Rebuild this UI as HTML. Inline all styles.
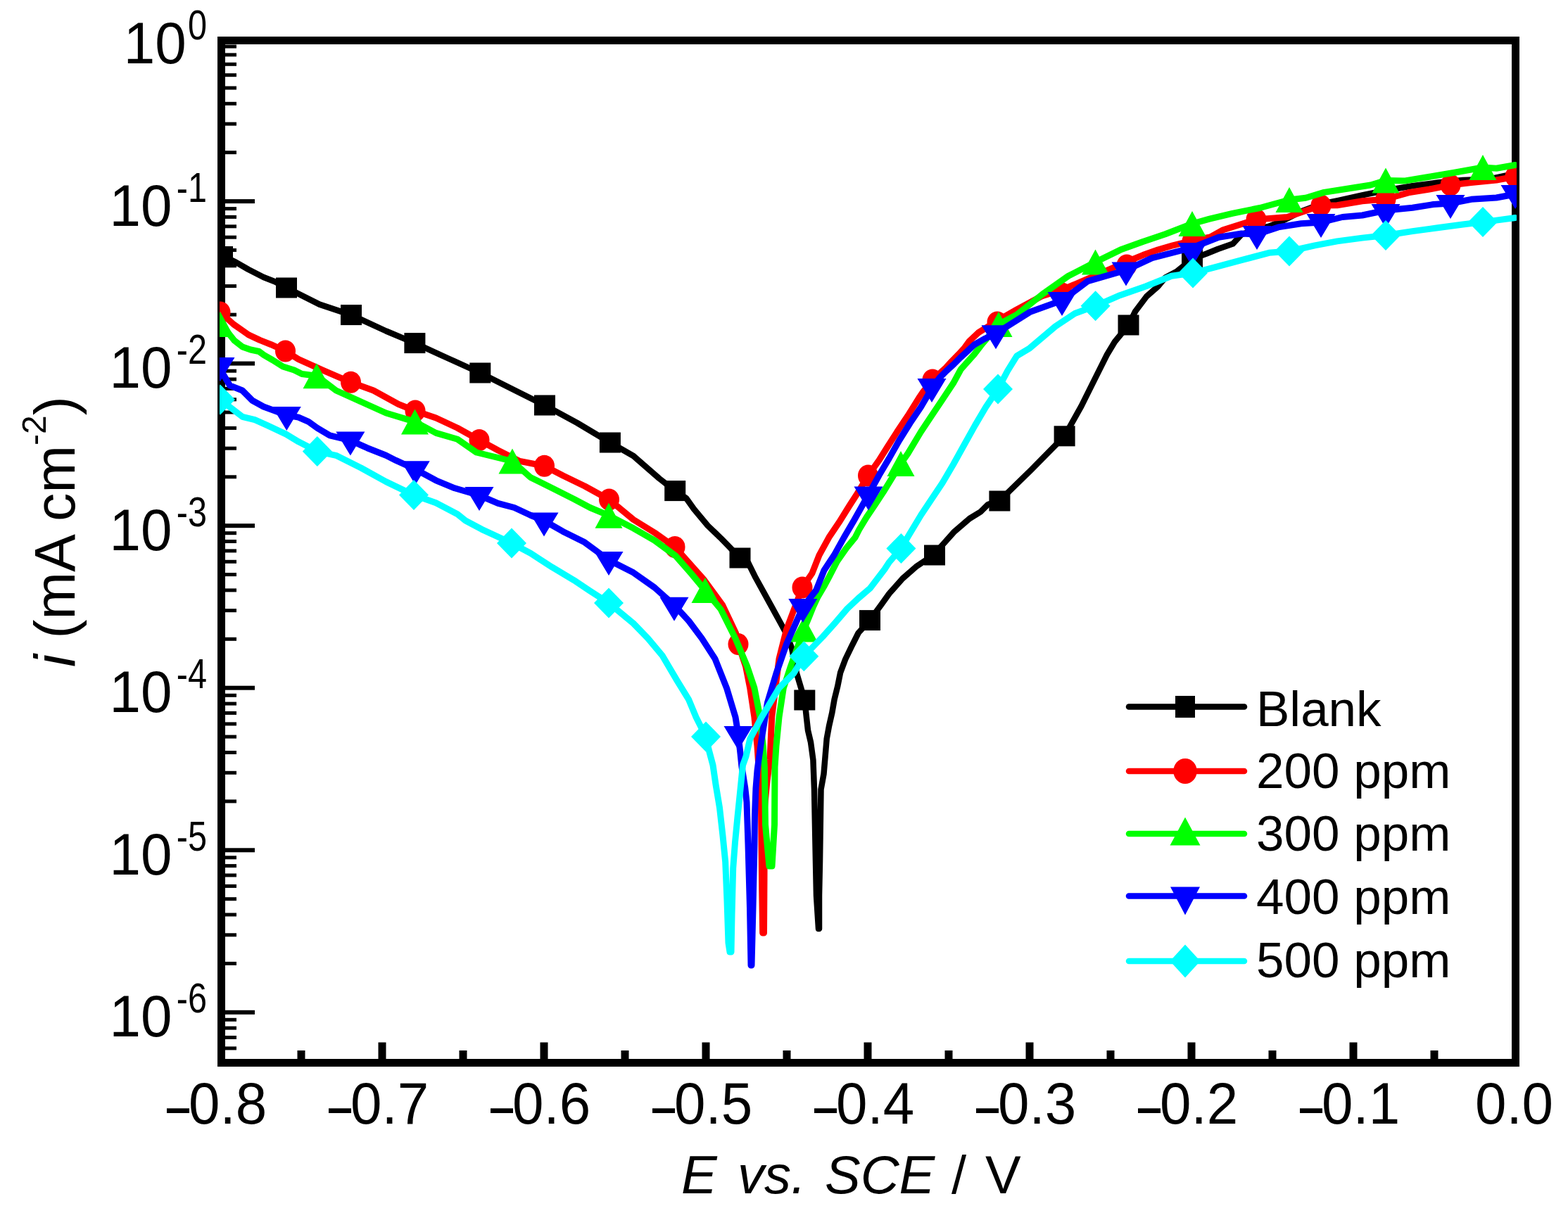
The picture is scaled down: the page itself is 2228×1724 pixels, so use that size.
<!DOCTYPE html>
<html><head><meta charset="utf-8"><title>Tafel plot</title>
<style>html,body{margin:0;padding:0;background:#fff;}svg{display:block;}text{font-family:"Liberation Sans",Arial,sans-serif;fill:#000;}</style></head><body>
<svg xmlns="http://www.w3.org/2000/svg" width="2228" height="1724" viewBox="0 0 2228 1724">
<rect x="0" y="0" width="2228" height="1724" fill="#fff"/>
<defs><clipPath id="pa"><rect x="312" y="52" width="1843" height="1460"/></clipPath></defs>
<g fill="#000">
<rect x="309" y="52" width="11" height="1462"/>
<rect x="2148" y="52" width="11" height="1462"/>
<rect x="309" y="52" width="1850" height="11"/>
<rect x="309" y="1505" width="1850" height="11"/>
<rect x="318" y="283.1" width="44" height="6"/>
<rect x="318" y="513.6" width="44" height="6"/>
<rect x="318" y="744.2" width="44" height="6"/>
<rect x="318" y="974.7" width="44" height="6"/>
<rect x="318" y="1205.3" width="44" height="6"/>
<rect x="318" y="1435.8" width="44" height="6"/>
<rect x="318" y="1487.4" width="18" height="5"/>
<rect x="318" y="1472.0" width="18" height="5"/>
<rect x="318" y="1458.6" width="18" height="5"/>
<rect x="318" y="1446.8" width="18" height="5"/>
<rect x="318" y="1366.9" width="18" height="5"/>
<rect x="318" y="1326.3" width="18" height="5"/>
<rect x="318" y="1297.5" width="18" height="5"/>
<rect x="318" y="1275.2" width="18" height="5"/>
<rect x="318" y="1256.9" width="18" height="5"/>
<rect x="318" y="1241.5" width="18" height="5"/>
<rect x="318" y="1228.1" width="18" height="5"/>
<rect x="318" y="1216.3" width="18" height="5"/>
<rect x="318" y="1136.4" width="18" height="5"/>
<rect x="318" y="1095.8" width="18" height="5"/>
<rect x="318" y="1067.0" width="18" height="5"/>
<rect x="318" y="1044.6" width="18" height="5"/>
<rect x="318" y="1026.4" width="18" height="5"/>
<rect x="318" y="1010.9" width="18" height="5"/>
<rect x="318" y="997.6" width="18" height="5"/>
<rect x="318" y="985.8" width="18" height="5"/>
<rect x="318" y="905.8" width="18" height="5"/>
<rect x="318" y="865.2" width="18" height="5"/>
<rect x="318" y="836.4" width="18" height="5"/>
<rect x="318" y="814.1" width="18" height="5"/>
<rect x="318" y="795.8" width="18" height="5"/>
<rect x="318" y="780.4" width="18" height="5"/>
<rect x="318" y="767.0" width="18" height="5"/>
<rect x="318" y="755.2" width="18" height="5"/>
<rect x="318" y="675.3" width="18" height="5"/>
<rect x="318" y="634.7" width="18" height="5"/>
<rect x="318" y="605.9" width="18" height="5"/>
<rect x="318" y="583.5" width="18" height="5"/>
<rect x="318" y="565.3" width="18" height="5"/>
<rect x="318" y="549.9" width="18" height="5"/>
<rect x="318" y="536.5" width="18" height="5"/>
<rect x="318" y="524.7" width="18" height="5"/>
<rect x="318" y="444.7" width="18" height="5"/>
<rect x="318" y="404.1" width="18" height="5"/>
<rect x="318" y="375.3" width="18" height="5"/>
<rect x="318" y="353.0" width="18" height="5"/>
<rect x="318" y="334.7" width="18" height="5"/>
<rect x="318" y="319.3" width="18" height="5"/>
<rect x="318" y="305.9" width="18" height="5"/>
<rect x="318" y="294.1" width="18" height="5"/>
<rect x="318" y="214.2" width="18" height="5"/>
<rect x="318" y="173.6" width="18" height="5"/>
<rect x="318" y="144.8" width="18" height="5"/>
<rect x="318" y="122.5" width="18" height="5"/>
<rect x="318" y="104.2" width="18" height="5"/>
<rect x="318" y="88.8" width="18" height="5"/>
<rect x="318" y="75.4" width="18" height="5"/>
<rect x="318" y="63.6" width="18" height="5"/>
<rect x="537.5" y="1481.5" width="11" height="25"/>
<rect x="767.5" y="1481.5" width="11" height="25"/>
<rect x="997.5" y="1481.5" width="11" height="25"/>
<rect x="1227.5" y="1481.5" width="11" height="25"/>
<rect x="1457.5" y="1481.5" width="11" height="25"/>
<rect x="1687.5" y="1481.5" width="11" height="25"/>
<rect x="1917.5" y="1481.5" width="11" height="25"/>
<rect x="422.5" y="1493" width="11" height="13"/>
<rect x="652.5" y="1493" width="11" height="13"/>
<rect x="882.5" y="1493" width="11" height="13"/>
<rect x="1112.5" y="1493" width="11" height="13"/>
<rect x="1342.5" y="1493" width="11" height="13"/>
<rect x="1572.5" y="1493" width="11" height="13"/>
<rect x="1802.5" y="1493" width="11" height="13"/>
<rect x="2032.5" y="1493" width="11" height="13"/>
</g>
<g clip-path="url(#pa)">
<polyline fill="none" stroke="#000000" stroke-width="8.5" stroke-linejoin="round" stroke-linecap="round" points="313.0,362.0 335.0,372.6 353.0,383.0 374.5,394.0 390.5,400.3 407.0,409.0 454.0,432.6 499.0,447.6 548.6,470.5 589.4,487.6 636.0,509.0 682.3,530.0 728.0,553.0 774.0,576.0 820.0,601.0 866.9,629.0 900.0,648.0 936.7,680.0 959.2,697.6 975.0,708.0 986.0,723.5 1005.6,747.0 1025.1,765.8 1038.0,779.0 1051.5,793.0 1063.2,800.0 1073.8,821.3 1085.6,842.6 1097.3,863.9 1109.0,885.2 1117.0,900.0 1125.0,921.0 1132.0,957.0 1143.3,995.0 1146.0,1020.0 1148.0,1038.0 1152.0,1055.0 1155.4,1080.0 1157.0,1122.0 1159.0,1225.0 1160.0,1273.0 1163.0,1320.0 1164.0,1320.0 1164.0,1273.0 1165.0,1225.0 1166.5,1122.0 1170.5,1100.0 1174.7,1050.0 1178.0,1032.0 1182.3,1013.0 1185.6,994.0 1190.3,975.0 1194.1,956.0 1201.2,937.0 1210.2,918.4 1219.7,899.5 1236.0,881.6 1251.8,860.0 1263.6,843.5 1282.5,822.2 1301.5,805.6 1315.7,796.0 1328.0,787.0 1356.2,755.4 1377.7,737.0 1393.0,727.7 1403.8,717.0 1420.4,711.5 1464.8,668.3 1512.6,619.8 1536.4,577.3 1554.7,540.6 1573.0,504.0 1584.0,485.7 1603.5,462.0 1613.2,442.5 1629.2,421.2 1645.2,407.3 1655.8,394.5 1671.8,386.0 1694.0,368.0 1714.4,360.5 1730.4,354.0 1751.7,346.6 1764.0,333.3 1785.0,326.0 1803.2,321.6 1822.8,313.8 1850.0,300.0 1877.0,290.0 1900.9,285.1 1935.7,277.4 1971.4,270.2 2007.0,264.3 2042.9,259.5 2078.6,256.0 2114.3,254.8 2138.0,250.0 2153.0,247.0"/>
<g fill="#000000"><rect x="301.0" y="350.0" width="30.0" height="29.0"/><rect x="392.0" y="394.5" width="30.0" height="29.0"/><rect x="484.0" y="433.1" width="30.0" height="29.0"/><rect x="574.4" y="473.1" width="30.0" height="29.0"/><rect x="667.3" y="515.5" width="30.0" height="29.0"/><rect x="759.0" y="561.5" width="30.0" height="29.0"/><rect x="851.9" y="614.5" width="30.0" height="29.0"/><rect x="944.2" y="683.1" width="30.0" height="29.0"/><rect x="1036.5" y="778.5" width="30.0" height="29.0"/><rect x="1128.3" y="980.5" width="30.0" height="29.0"/><rect x="1221.0" y="867.1" width="30.0" height="29.0"/><rect x="1313.0" y="774.5" width="30.0" height="29.0"/><rect x="1405.4" y="697.5" width="30.0" height="29.0"/><rect x="1497.6" y="605.3" width="30.0" height="29.0"/><rect x="1588.5" y="447.5" width="30.0" height="29.0"/><rect x="1679.0" y="353.5" width="30.0" height="29.0"/></g>
<polyline fill="none" stroke="#ff0000" stroke-width="9.0" stroke-linejoin="round" stroke-linecap="round" points="313.0,444.0 322.0,452.0 332.0,461.0 342.6,468.4 353.2,475.9 369.2,483.4 385.2,489.7 405.5,499.0 424.2,510.6 459.7,526.6 498.5,543.3 530.7,555.0 566.2,574.5 590.0,584.0 619.5,594.0 650.0,608.3 681.0,625.5 707.7,640.0 738.5,655.4 773.5,662.3 800.0,676.0 831.0,691.0 865.5,710.0 900.0,738.5 930.0,757.0 959.0,777.5 1000.6,824.3 1026.6,859.8 1045.6,900.0 1049.0,915.6 1059.5,946.7 1065.7,977.8 1071.9,1019.2 1076.0,1060.6 1078.0,1090.0 1081.5,1147.0 1082.5,1250.0 1083.7,1326.0 1085.5,1326.0 1086.0,1250.0 1086.5,1147.0 1090.0,1110.0 1092.0,1095.0 1094.0,1080.0 1096.7,1019.0 1107.0,936.4 1117.4,895.0 1140.0,835.0 1154.0,814.7 1164.0,789.1 1178.0,763.6 1192.3,742.3 1206.5,719.5 1216.5,704.0 1233.5,676.0 1249.1,654.2 1260.5,636.0 1274.6,613.8 1290.0,590.8 1305.4,566.0 1311.5,557.0 1325.0,540.0 1344.1,522.6 1352.7,513.1 1361.9,503.7 1370.6,494.2 1377.5,484.7 1390.0,472.9 1417.0,456.0 1444.8,440.0 1480.0,421.0 1509.0,412.0 1554.7,392.3 1601.0,372.0 1624.0,362.6 1645.2,355.1 1666.5,348.8 1694.0,342.0 1719.7,337.0 1738.0,326.8 1785.0,312.0 1829.3,308.5 1877.0,292.0 1900.0,291.7 1935.7,285.7 1969.0,283.0 2001.2,273.8 2031.0,269.0 2061.0,263.0 2090.5,259.5 2126.2,256.0 2153.0,251.0"/>
<g fill="#ff0000"><ellipse cx="313.0" cy="444.0" rx="14.5" ry="15.5"/><ellipse cx="405.5" cy="499.0" rx="14.5" ry="15.5"/><ellipse cx="498.5" cy="543.3" rx="14.5" ry="15.5"/><ellipse cx="590.0" cy="584.0" rx="14.5" ry="15.5"/><ellipse cx="681.0" cy="625.5" rx="14.5" ry="15.5"/><ellipse cx="773.5" cy="662.3" rx="14.5" ry="15.5"/><ellipse cx="865.5" cy="710.0" rx="14.5" ry="15.5"/><ellipse cx="959.0" cy="777.5" rx="14.5" ry="15.5"/><ellipse cx="1049.0" cy="915.6" rx="14.5" ry="15.5"/><ellipse cx="1140.0" cy="835.0" rx="14.5" ry="15.5"/><ellipse cx="1233.5" cy="676.0" rx="14.5" ry="15.5"/><ellipse cx="1325.0" cy="540.0" rx="14.5" ry="15.5"/><ellipse cx="1417.0" cy="458.0" rx="14.5" ry="15.5"/><ellipse cx="1509.0" cy="417.0" rx="14.5" ry="15.5"/><ellipse cx="1601.0" cy="377.0" rx="14.5" ry="15.5"/><ellipse cx="1694.0" cy="343.0" rx="14.5" ry="15.5"/><ellipse cx="1785.0" cy="312.0" rx="14.5" ry="15.5"/><ellipse cx="1877.0" cy="292.0" rx="14.5" ry="15.5"/><ellipse cx="1969.0" cy="283.0" rx="14.5" ry="15.5"/><ellipse cx="2061.0" cy="263.0" rx="14.5" ry="15.5"/><ellipse cx="2153.0" cy="251.0" rx="14.5" ry="15.5"/></g>
<polyline fill="none" stroke="#00ff00" stroke-width="9.0" stroke-linejoin="round" stroke-linecap="round" points="313.0,461.0 321.0,469.0 333.0,484.0 344.6,493.0 356.0,497.0 368.0,499.5 375.0,504.6 387.0,511.5 402.0,521.0 418.0,526.0 429.0,531.5 450.0,534.2 477.5,555.0 513.0,571.0 548.5,587.0 589.5,599.4 619.5,615.4 650.0,624.2 677.0,643.0 728.0,655.5 753.8,678.5 784.6,693.8 815.4,709.2 838.5,721.5 865.0,732.7 900.0,750.8 930.0,768.0 960.0,790.0 982.0,815.0 1002.0,839.0 1024.2,866.0 1045.0,907.4 1061.5,946.7 1071.9,977.8 1080.0,1019.2 1084.3,1060.6 1086.4,1090.0 1087.5,1172.0 1093.0,1231.0 1097.0,1231.0 1100.5,1172.0 1101.0,1090.0 1103.0,1060.0 1107.0,1019.2 1113.3,977.8 1123.6,946.7 1142.3,894.5 1149.7,876.8 1155.4,862.6 1162.0,848.4 1170.5,834.0 1178.0,820.0 1189.4,797.9 1202.7,778.9 1215.0,764.0 1220.7,752.8 1231.3,735.1 1243.4,717.3 1255.0,699.6 1280.0,659.0 1290.0,644.6 1308.5,613.8 1323.8,590.8 1339.2,567.7 1354.6,544.6 1365.2,525.0 1384.2,503.7 1393.6,491.4 1419.0,461.0 1444.8,447.2 1481.5,418.0 1518.0,392.3 1556.5,372.5 1592.0,355.1 1624.0,343.4 1655.8,332.8 1694.0,318.0 1718.6,311.1 1751.1,303.3 1790.2,295.5 1832.0,284.0 1855.3,281.2 1881.4,273.4 1923.8,266.7 1947.6,263.0 1969.0,256.5 1995.2,257.1 2031.0,251.2 2066.7,245.2 2107.0,238.0 2126.2,239.3 2153.0,234.5"/>
<g fill="#00ff00"><polygon points="313.0,443.0 332.5,479.0 293.5,479.0"/><polygon points="450.0,516.2 469.5,552.2 430.5,552.2"/><polygon points="589.5,581.4 609.0,617.4 570.0,617.4"/><polygon points="728.0,637.5 747.5,673.5 708.5,673.5"/><polygon points="865.0,714.7 884.5,750.7 845.5,750.7"/><polygon points="1002.0,821.0 1021.5,857.0 982.5,857.0"/><polygon points="1142.3,876.5 1161.8,912.5 1122.8,912.5"/><polygon points="1280.0,641.0 1299.5,677.0 1260.5,677.0"/><polygon points="1419.0,443.0 1438.5,479.0 1399.5,479.0"/><polygon points="1556.5,354.5 1576.0,390.5 1537.0,390.5"/><polygon points="1694.0,300.0 1713.5,336.0 1674.5,336.0"/><polygon points="1832.0,266.0 1851.5,302.0 1812.5,302.0"/><polygon points="1969.0,238.5 1988.5,274.5 1949.5,274.5"/><polygon points="2107.0,220.0 2126.5,256.0 2087.5,256.0"/></g>
<polyline fill="none" stroke="#0000ff" stroke-width="9.0" stroke-linejoin="round" stroke-linecap="round" points="313.0,525.0 326.6,547.9 344.4,555.0 358.6,569.2 374.5,578.0 407.3,590.0 424.2,593.2 438.4,599.4 450.9,608.3 468.6,618.9 497.9,626.0 521.9,636.7 548.5,647.3 562.7,654.4 590.2,667.0 619.5,682.8 646.0,693.8 681.0,704.0 707.7,715.4 730.8,721.5 753.8,732.3 773.0,740.0 800.0,755.4 830.8,770.8 865.0,796.0 900.0,813.8 930.0,835.0 958.0,860.0 978.7,882.5 997.3,907.4 1016.0,936.4 1032.5,977.8 1045.0,1019.2 1049.0,1044.0 1052.0,1071.0 1054.0,1090.0 1058.8,1120.0 1061.0,1140.0 1063.0,1200.0 1065.5,1290.0 1067.0,1372.0 1068.0,1372.0 1070.0,1290.0 1072.0,1200.0 1072.5,1158.0 1074.0,1120.0 1076.0,1095.0 1078.0,1080.0 1082.2,1050.3 1090.5,998.5 1103.0,957.0 1117.4,915.7 1140.8,863.0 1159.7,838.9 1171.0,810.5 1185.2,789.1 1199.4,763.6 1213.6,739.4 1234.0,703.0 1249.1,675.5 1263.4,651.4 1277.7,626.0 1293.0,601.5 1308.5,578.5 1324.0,552.0 1335.0,537.0 1344.6,527.3 1355.0,517.9 1364.5,508.4 1374.8,498.9 1384.2,490.0 1398.4,481.9 1415.0,474.0 1463.2,443.6 1509.0,427.0 1545.6,399.6 1600.0,384.0 1637.0,366.6 1694.0,352.0 1731.6,337.2 1764.2,332.0 1786.0,333.0 1816.3,322.9 1848.8,317.7 1877.0,316.0 1907.4,308.5 1935.7,306.0 1969.0,299.0 2007.1,295.2 2036.9,290.5 2061.0,289.0 2090.5,283.3 2126.2,281.0 2153.0,276.0"/>
<g fill="#0000ff"><polygon points="292.5,508.0 333.5,508.0 313.0,542.0"/><polygon points="386.8,578.0 427.8,578.0 407.3,612.0"/><polygon points="477.4,613.5 518.4,613.5 497.9,647.5"/><polygon points="569.7,655.2 610.7,655.2 590.2,689.2"/><polygon points="660.5,692.0 701.5,692.0 681.0,726.0"/><polygon points="752.5,728.4 793.5,728.4 773.0,762.4"/><polygon points="844.5,784.0 885.5,784.0 865.0,818.0"/><polygon points="937.5,848.7 978.5,848.7 958.0,882.7"/><polygon points="1028.5,1032.0 1069.5,1032.0 1049.0,1066.0"/><polygon points="1120.3,851.0 1161.3,851.0 1140.8,885.0"/><polygon points="1213.5,691.5 1254.5,691.5 1234.0,725.5"/><polygon points="1303.5,538.0 1344.5,538.0 1324.0,572.0"/><polygon points="1394.5,462.3 1435.5,462.3 1415.0,496.3"/><polygon points="1488.5,415.0 1529.5,415.0 1509.0,449.0"/><polygon points="1579.5,372.5 1620.5,372.5 1600.0,406.5"/><polygon points="1673.5,345.0 1714.5,345.0 1694.0,379.0"/><polygon points="1765.5,321.0 1806.5,321.0 1786.0,355.0"/><polygon points="1856.5,304.0 1897.5,304.0 1877.0,338.0"/><polygon points="1948.5,290.0 1989.5,290.0 1969.0,324.0"/><polygon points="2040.5,277.0 2081.5,277.0 2061.0,311.0"/><polygon points="2132.5,263.0 2173.5,263.0 2153.0,297.0"/></g>
<polyline fill="none" stroke="#00ffff" stroke-width="9.0" stroke-linejoin="round" stroke-linecap="round" points="313.0,568.0 344.4,592.3 362.1,596.7 379.9,604.7 406.5,617.1 424.2,627.8 450.8,641.6 477.5,647.3 513.0,665.0 548.5,684.6 588.0,703.6 619.5,714.8 650.0,730.7 661.5,740.0 684.6,752.3 727.0,772.0 753.8,786.2 784.6,806.2 815.4,824.6 838.5,840.0 865.0,857.0 900.0,886.0 920.7,907.4 941.4,932.2 962.1,967.4 978.7,994.4 989.0,1019.2 1003.0,1047.0 1007.0,1065.0 1013.0,1087.5 1017.0,1115.0 1022.5,1148.0 1027.0,1188.0 1030.7,1225.0 1033.0,1280.0 1035.0,1340.0 1037.0,1353.0 1039.0,1353.0 1040.0,1300.0 1041.7,1234.0 1044.5,1197.0 1048.0,1161.0 1051.8,1124.0 1055.5,1087.5 1060.0,1075.0 1065.7,1050.3 1082.2,1019.2 1107.0,977.8 1127.8,957.0 1142.3,932.7 1169.0,905.0 1186.0,886.0 1204.0,865.0 1220.0,850.0 1236.0,836.4 1257.0,809.0 1263.4,799.1 1280.4,779.5 1290.0,763.0 1308.5,732.3 1323.8,709.2 1339.2,686.2 1354.6,660.0 1370.0,632.3 1385.4,604.6 1400.8,578.5 1418.0,553.0 1431.5,527.3 1444.8,505.8 1463.2,494.8 1499.8,463.7 1527.3,445.4 1556.6,434.8 1591.4,419.7 1628.0,407.0 1664.6,392.3 1695.0,388.0 1725.1,380.2 1764.2,369.7 1803.2,359.3 1832.0,357.0 1868.3,348.9 1900.0,342.9 1935.7,338.1 1969.0,334.5 2007.1,328.6 2042.9,323.8 2078.6,319.0 2107.0,315.5 2126.2,313.1 2153.0,309.5"/>
<g fill="#00ffff"><polygon points="313.0,546.5 334.0,568.0 313.0,589.5 292.0,568.0"/><polygon points="450.8,620.1 471.8,641.6 450.8,663.1 429.8,641.6"/><polygon points="588.0,682.1 609.0,703.6 588.0,725.1 567.0,703.6"/><polygon points="727.0,750.5 748.0,772.0 727.0,793.5 706.0,772.0"/><polygon points="865.0,835.5 886.0,857.0 865.0,878.5 844.0,857.0"/><polygon points="1003.0,1025.5 1024.0,1047.0 1003.0,1068.5 982.0,1047.0"/><polygon points="1142.3,911.2 1163.3,932.7 1142.3,954.2 1121.3,932.7"/><polygon points="1280.4,758.0 1301.4,779.5 1280.4,801.0 1259.4,779.5"/><polygon points="1418.0,531.5 1439.0,553.0 1418.0,574.5 1397.0,553.0"/><polygon points="1556.6,413.3 1577.6,434.8 1556.6,456.3 1535.6,434.8"/><polygon points="1695.0,366.5 1716.0,388.0 1695.0,409.5 1674.0,388.0"/><polygon points="1832.0,335.5 1853.0,357.0 1832.0,378.5 1811.0,357.0"/><polygon points="1969.0,313.0 1990.0,334.5 1969.0,356.0 1948.0,334.5"/><polygon points="2107.0,294.0 2128.0,315.5 2107.0,337.0 2086.0,315.5"/></g>
</g>
<text transform="translate(264.8,90.2) scale(1,1.035)" font-size="80" text-anchor="end">10</text><text transform="translate(294,56.1) scale(0.9,1.08)" font-size="54" text-anchor="end">0</text>
<text transform="translate(244.6,320.7) scale(1,1.035)" font-size="80" text-anchor="end">10</text><text transform="translate(294,286.6) scale(0.9,1.08)" font-size="54" text-anchor="end">-1</text>
<text transform="translate(244.6,551.2) scale(1,1.035)" font-size="80" text-anchor="end">10</text><text transform="translate(294,517.1) scale(0.9,1.08)" font-size="54" text-anchor="end">-2</text>
<text transform="translate(244.6,781.8) scale(1,1.035)" font-size="80" text-anchor="end">10</text><text transform="translate(294,747.7) scale(0.9,1.08)" font-size="54" text-anchor="end">-3</text>
<text transform="translate(244.6,1012.3) scale(1,1.035)" font-size="80" text-anchor="end">10</text><text transform="translate(294,978.2) scale(0.9,1.08)" font-size="54" text-anchor="end">-4</text>
<text transform="translate(244.6,1242.9) scale(1,1.035)" font-size="80" text-anchor="end">10</text><text transform="translate(294,1208.8) scale(0.9,1.08)" font-size="54" text-anchor="end">-5</text>
<text transform="translate(244.6,1473.4) scale(1,1.035)" font-size="80" text-anchor="end">10</text><text transform="translate(294,1439.3) scale(0.9,1.08)" font-size="54" text-anchor="end">-6</text>
<text transform="translate(237.0,1603.6) scale(0.72,1.25)" font-size="80">&#8211;</text><text transform="translate(268.0,1597) scale(1,1.045)" font-size="80">0.8</text>
<text transform="translate(467.0,1603.6) scale(0.72,1.25)" font-size="80">&#8211;</text><text transform="translate(498.0,1597) scale(1,1.045)" font-size="80">0.7</text>
<text transform="translate(697.0,1603.6) scale(0.72,1.25)" font-size="80">&#8211;</text><text transform="translate(728.0,1597) scale(1,1.045)" font-size="80">0.6</text>
<text transform="translate(927.0,1603.6) scale(0.72,1.25)" font-size="80">&#8211;</text><text transform="translate(958.0,1597) scale(1,1.045)" font-size="80">0.5</text>
<text transform="translate(1157.0,1603.6) scale(0.72,1.25)" font-size="80">&#8211;</text><text transform="translate(1188.0,1597) scale(1,1.045)" font-size="80">0.4</text>
<text transform="translate(1387.0,1603.6) scale(0.72,1.25)" font-size="80">&#8211;</text><text transform="translate(1418.0,1597) scale(1,1.045)" font-size="80">0.3</text>
<text transform="translate(1617.0,1603.6) scale(0.72,1.25)" font-size="80">&#8211;</text><text transform="translate(1648.0,1597) scale(1,1.045)" font-size="80">0.2</text>
<text transform="translate(1847.0,1603.6) scale(0.72,1.25)" font-size="80">&#8211;</text><text transform="translate(1878.0,1597) scale(1,1.045)" font-size="80">0.1</text>
<text transform="translate(2151.5,1597) scale(1,1.045)" font-size="80" text-anchor="middle">0.0</text>
<text y="1696" font-size="76"><tspan x="968" font-style="italic">E</tspan><tspan x="1048" font-style="italic">vs.</tspan><tspan x="1172" font-style="italic">SCE</tspan><tspan x="1352">/</tspan><tspan x="1400">V</tspan></text>
<text transform="translate(105.7,948) rotate(-90)" font-size="81"><tspan font-style="italic">i</tspan> (mA cm<tspan font-size="48" dy="-41">-2</tspan><tspan dy="41">)</tspan></text>
<line x1="1604" y1="1004.5" x2="1768" y2="1004.5" stroke="#000000" stroke-width="8.5" stroke-linecap="round"/>
<g fill="#000000"><rect x="1670.0" y="989.0" width="28.0" height="31.0"/></g>
<text x="1785" y="1031.5" font-size="71">Blank</text>
<line x1="1604" y1="1096.0" x2="1768" y2="1096.0" stroke="#ff0000" stroke-width="8.5" stroke-linecap="round"/>
<g fill="#ff0000"><ellipse cx="1684.0" cy="1096.0" rx="16.7" ry="18.0"/></g>
<text x="1785" y="1120.0" font-size="71">200 ppm</text>
<line x1="1604" y1="1185.0" x2="1768" y2="1185.0" stroke="#00ff00" stroke-width="8.5" stroke-linecap="round"/>
<g fill="#00ff00"><polygon points="1684.0,1161.5 1705.5,1201.5 1662.5,1201.5"/></g>
<text x="1785" y="1209.0" font-size="71">300 ppm</text>
<line x1="1604" y1="1273.5" x2="1768" y2="1273.5" stroke="#0000ff" stroke-width="8.5" stroke-linecap="round"/>
<g fill="#0000ff"><polygon points="1663.0,1260.5 1705.0,1260.5 1684.0,1300.5"/></g>
<text x="1785" y="1299.0" font-size="71">400 ppm</text>
<line x1="1604" y1="1366.0" x2="1768" y2="1366.0" stroke="#00ffff" stroke-width="8.5" stroke-linecap="round"/>
<g fill="#00ffff"><polygon points="1684.0,1342.5 1705.5,1366.0 1684.0,1389.5 1662.5,1366.0"/></g>
<text x="1785" y="1389.0" font-size="71">500 ppm</text>
</svg>
</body></html>
